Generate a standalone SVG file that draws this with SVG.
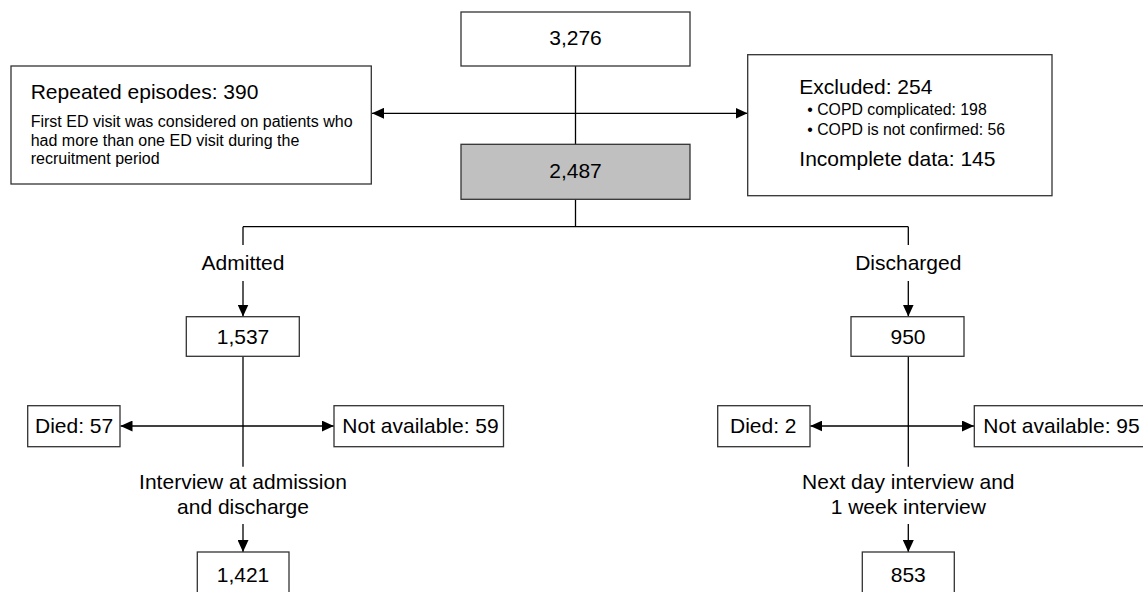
<svg xmlns="http://www.w3.org/2000/svg" width="1143" height="592" viewBox="0 0 1143 592">
<style>
.box{fill:#fff;stroke:#333;stroke-width:1.3}
.grey{fill:#c0c0c0}
.ln{stroke:#000;stroke-width:1.3;fill:none}
text{font-family:"Liberation Sans",Arial,sans-serif;fill:#000}
.big{font-size:21px}
.mid{font-size:16px}
.sm{font-size:15.8px}
.c{text-anchor:middle}
</style>
<defs>
<marker id="ah" viewBox="0 0 12 11" refX="12" refY="5.5" markerWidth="12" markerHeight="11" markerUnits="userSpaceOnUse" orient="auto-start-reverse">
<path d="M0,0 L12,5.5 L0,11 z" fill="#000"/>
</marker>
</defs>
<rect width="1143" height="592" fill="#fff"/>
<g id="connectors">
<line class="ln" x1="575.5" y1="66" x2="575.5" y2="144"/>
<line class="ln" x1="372" y1="113.3" x2="747.5" y2="113.3" marker-start="url(#ah)" marker-end="url(#ah)"/>
<line class="ln" x1="575.5" y1="199.3" x2="575.5" y2="226.7"/>
<line class="ln" x1="243" y1="226.7" x2="908.3" y2="226.7"/>
<line class="ln" x1="243" y1="226.7" x2="243" y2="245"/>
<line class="ln" x1="908.3" y1="226.7" x2="908.3" y2="245"/>
<line class="ln" x1="243" y1="281" x2="243" y2="316.5" marker-end="url(#ah)"/>
<line class="ln" x1="908.3" y1="281" x2="908.3" y2="316.5" marker-end="url(#ah)"/>
<line class="ln" x1="243" y1="356.3" x2="243" y2="466.7"/>
<line class="ln" x1="908.3" y1="356.3" x2="908.3" y2="466.7"/>
<line class="ln" x1="120.5" y1="426" x2="333.8" y2="426" marker-start="url(#ah)" marker-end="url(#ah)"/>
<line class="ln" x1="810.3" y1="426" x2="974" y2="426" marker-start="url(#ah)" marker-end="url(#ah)"/>
<line class="ln" x1="243" y1="524" x2="243" y2="552" marker-end="url(#ah)"/>
<line class="ln" x1="908.3" y1="524" x2="908.3" y2="552" marker-end="url(#ah)"/>
</g>
<g id="labels">
<text class="big c" x="243" y="270">Admitted</text>
<text class="big c" x="908.3" y="270">Discharged</text>
<text class="big c" x="243" y="489">Interview at admission</text>
<text class="big c" x="243" y="514.3">and discharge</text>
<text class="big c" x="908.3" y="489">Next day interview and</text>
<text class="big c" x="908.3" y="514.3">1 week interview</text>
</g>
<g id="n3276">
<rect class="box" x="461" y="12" width="229" height="54"/>
<text class="big c" x="575.5" y="45.3">3,276</text>
</g>
<g id="repeated">
<rect class="box" x="11" y="66" width="360.3" height="118"/>
<text class="big" x="30.7" y="99.3">Repeated episodes: 390</text>
<text class="mid" x="30.7" y="127.3">First ED visit was considered on patients who</text>
<text class="mid" x="30.7" y="145.7">had more than one ED visit during the</text>
<text class="mid" x="30.7" y="164.3">recruitment period</text>
</g>
<g id="excluded">
<rect class="box" x="747.7" y="54.7" width="304.3" height="141"/>
<text class="big" x="799.3" y="94.3">Excluded: 254</text>
<text class="sm" x="807.3" y="115.3">• COPD complicated: 198</text>
<text class="sm" x="807.3" y="134.5">• COPD is not confirmed: 56</text>
<text class="big" x="799.3" y="166">Incomplete data: 145</text>
</g>
<g id="n2487">
<rect class="box grey" x="461" y="144.3" width="229" height="55"/>
<text class="big c" x="575.5" y="178">2,487</text>
</g>
<g id="n1537">
<rect class="box" x="186.3" y="316.7" width="113" height="39.6"/>
<text class="big c" x="243" y="344">1,537</text>
</g>
<g id="n950">
<rect class="box" x="851" y="316.7" width="113" height="39.6"/>
<text class="big c" x="908" y="344">950</text>
</g>
<g id="died57">
<rect class="box" x="27.7" y="405.7" width="92.3" height="41"/>
<text class="big" x="35" y="432.7">Died: 57</text>
</g>
<g id="na59">
<rect class="box" x="334" y="405.7" width="169.5" height="41"/>
<text class="big" x="342.3" y="432.7">Not available: 59</text>
</g>
<g id="died2">
<rect class="box" x="717.7" y="405.7" width="92.3" height="41"/>
<text class="big" x="730" y="432.7">Died: 2</text>
</g>
<g id="na95">
<rect class="box" x="974.3" y="405.7" width="200" height="41"/>
<text class="big" x="983.3" y="432.7">Not available: 95</text>
</g>
<g id="n1421">
<rect class="box" x="197.3" y="552" width="91.7" height="60"/>
<text class="big c" x="243" y="582.3">1,421</text>
</g>
<g id="n853">
<rect class="box" x="862.3" y="552" width="92" height="60"/>
<text class="big c" x="908.3" y="582.3">853</text>
</g>
</svg>
